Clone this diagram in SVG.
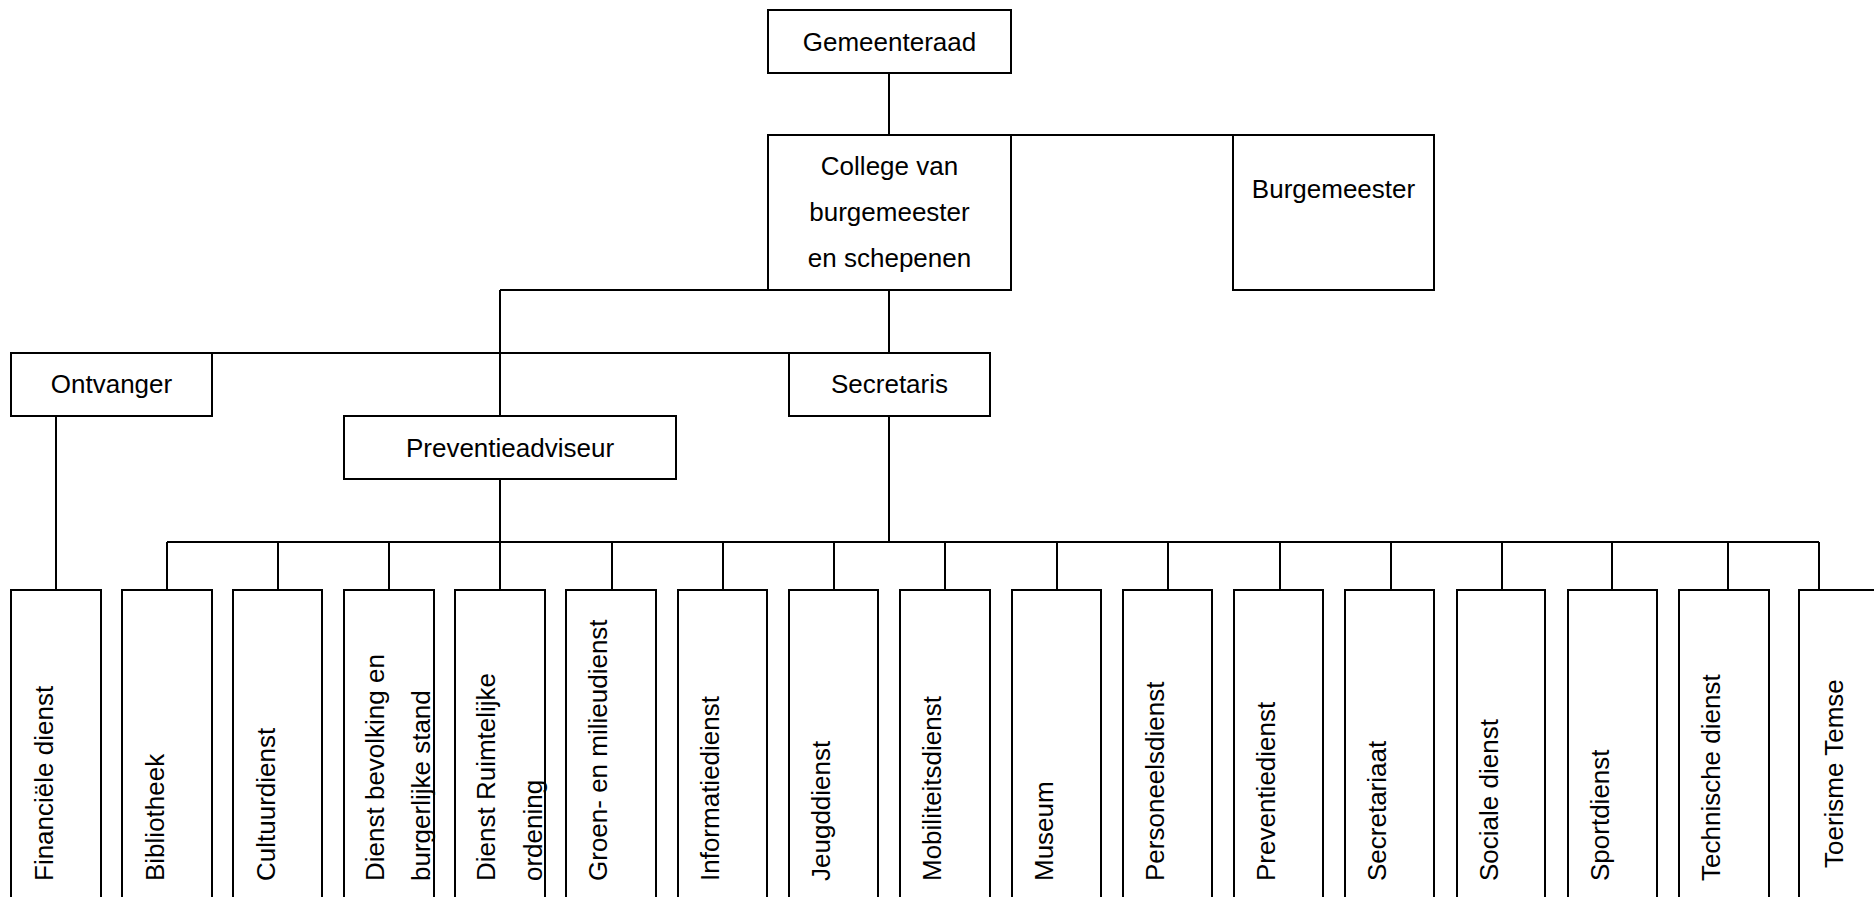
<svg xmlns="http://www.w3.org/2000/svg" width="1874" height="897" viewBox="0 0 1874 897">
<style>
.box{fill:#fff;stroke:#000;stroke-width:2}
.con line{stroke:#000;stroke-width:2}
text{font-family:"Liberation Sans",Arial,sans-serif;font-size:26px;fill:#000}
.c{text-anchor:middle}
.v{font-size:26px}
</style>
<rect width="1874" height="897" fill="#fff"/>
<g id="connectors" class="con">
<line x1="889" y1="73" x2="889" y2="135"/>
<line x1="1011" y1="135" x2="1233" y2="135"/>
<line x1="500" y1="290" x2="768" y2="290"/>
<line x1="500" y1="290" x2="500" y2="416"/>
<line x1="212" y1="353" x2="789" y2="353"/>
<line x1="889" y1="290" x2="889" y2="353"/>
<line x1="56" y1="416" x2="56" y2="590"/>
<line x1="500" y1="479" x2="500" y2="542"/>
<line x1="889" y1="416" x2="889" y2="542"/>
<line x1="167" y1="542" x2="1819" y2="542"/>
<line x1="167" y1="542" x2="167" y2="590"/>
<line x1="278" y1="542" x2="278" y2="590"/>
<line x1="389" y1="542" x2="389" y2="590"/>
<line x1="500" y1="542" x2="500" y2="590"/>
<line x1="612" y1="542" x2="612" y2="590"/>
<line x1="723" y1="542" x2="723" y2="590"/>
<line x1="834" y1="542" x2="834" y2="590"/>
<line x1="945" y1="542" x2="945" y2="590"/>
<line x1="1057" y1="542" x2="1057" y2="590"/>
<line x1="1168" y1="542" x2="1168" y2="590"/>
<line x1="1280" y1="542" x2="1280" y2="590"/>
<line x1="1391" y1="542" x2="1391" y2="590"/>
<line x1="1502" y1="542" x2="1502" y2="590"/>
<line x1="1612" y1="542" x2="1612" y2="590"/>
<line x1="1728" y1="542" x2="1728" y2="590"/>
<line x1="1819" y1="542" x2="1819" y2="590"/>
</g>
<g id="gemeenteraad"><rect class="box" x="768" y="10" width="243" height="63"/><text class="c" x="889.5" y="51">Gemeenteraad</text></g>
<g id="college"><rect class="box" x="768" y="135" width="243" height="155"/><text class="c" x="889.5" y="175">College van</text><text class="c" x="889.5" y="221">burgemeester</text><text class="c" x="889.5" y="267">en schepenen</text></g>
<g id="burgemeester"><rect class="box" x="1233" y="135" width="201" height="155"/><text class="c" x="1333.5" y="198">Burgemeester</text></g>
<g id="ontvanger"><rect class="box" x="11" y="353" width="201" height="63"/><text class="c" x="111.5" y="393">Ontvanger</text></g>
<g id="secretaris"><rect class="box" x="789" y="353" width="201" height="63"/><text class="c" x="889.5" y="393">Secretaris</text></g>
<g id="preventieadviseur"><rect class="box" x="344" y="416" width="332" height="63"/><text class="c" x="510" y="457">Preventieadviseur</text></g>
<g id="financiele-dienst"><rect class="box" x="11" y="590" width="90" height="330"/><text class="v" transform="rotate(-90 53 881)" x="53" y="881">Financiële dienst</text></g>
<g id="bibliotheek"><rect class="box" x="122" y="590" width="90" height="330"/><text class="v" transform="rotate(-90 164 881)" x="164" y="881">Bibliotheek</text></g>
<g id="cultuurdienst"><rect class="box" x="233" y="590" width="89" height="330"/><text class="v" transform="rotate(-90 275 881)" x="275" y="881">Cultuurdienst</text></g>
<g id="dienst-bevolking"><rect class="box" x="344" y="590" width="90" height="330"/><text class="v" transform="rotate(-90 384 881)" x="384" y="881">Dienst bevolking en</text><text class="v" transform="rotate(-90 430 881)" x="430" y="881">burgerlijke stand</text></g>
<g id="dienst-ruimtelijke-ordening"><rect class="box" x="455" y="590" width="90" height="330"/><text class="v" transform="rotate(-90 495 881)" x="495" y="881">Dienst Ruimtelijke</text><text class="v" transform="rotate(-90 542 881)" x="542" y="881">ordening</text></g>
<g id="groen-milieudienst"><rect class="box" x="566" y="590" width="90" height="330"/><text class="v" transform="rotate(-90 607 881)" x="607" y="881">Groen- en milieudienst</text></g>
<g id="informatiedienst"><rect class="box" x="678" y="590" width="89" height="330"/><text class="v" transform="rotate(-90 719 881)" x="719" y="881">Informatiedienst</text></g>
<g id="jeugddienst"><rect class="box" x="789" y="590" width="89" height="330"/><text class="v" transform="rotate(-90 830 881)" x="830" y="881">Jeugddienst</text></g>
<g id="mobiliteitsdienst"><rect class="box" x="900" y="590" width="90" height="330"/><text class="v" transform="rotate(-90 941 881)" x="941" y="881">Mobiliteitsdienst</text></g>
<g id="museum"><rect class="box" x="1012" y="590" width="89" height="330"/><text class="v" transform="rotate(-90 1053 881)" x="1053" y="881">Museum</text></g>
<g id="personeelsdienst"><rect class="box" x="1123" y="590" width="89" height="330"/><text class="v" transform="rotate(-90 1164 881)" x="1164" y="881">Personeelsdienst</text></g>
<g id="preventiedienst"><rect class="box" x="1234" y="590" width="89" height="330"/><text class="v" transform="rotate(-90 1275 881)" x="1275" y="881">Preventiedienst</text></g>
<g id="secretariaat"><rect class="box" x="1345" y="590" width="89" height="330"/><text class="v" transform="rotate(-90 1386 881)" x="1386" y="881">Secretariaat</text></g>
<g id="sociale-dienst"><rect class="box" x="1457" y="590" width="88" height="330"/><text class="v" transform="rotate(-90 1498 881)" x="1498" y="881">Sociale dienst</text></g>
<g id="sportdienst"><rect class="box" x="1568" y="590" width="89" height="330"/><text class="v" transform="rotate(-90 1609 881)" x="1609" y="881">Sportdienst</text></g>
<g id="technische-dienst"><rect class="box" x="1679" y="590" width="90" height="330"/><text class="v" transform="rotate(-90 1720 881)" x="1720" y="881">Technische dienst</text></g>
<g id="toerisme-temse"><rect class="box" x="1799" y="590" width="100" height="330"/><text class="v" transform="rotate(-90 1843 868)" x="1843" y="868">Toerisme Temse</text></g>
</svg>
